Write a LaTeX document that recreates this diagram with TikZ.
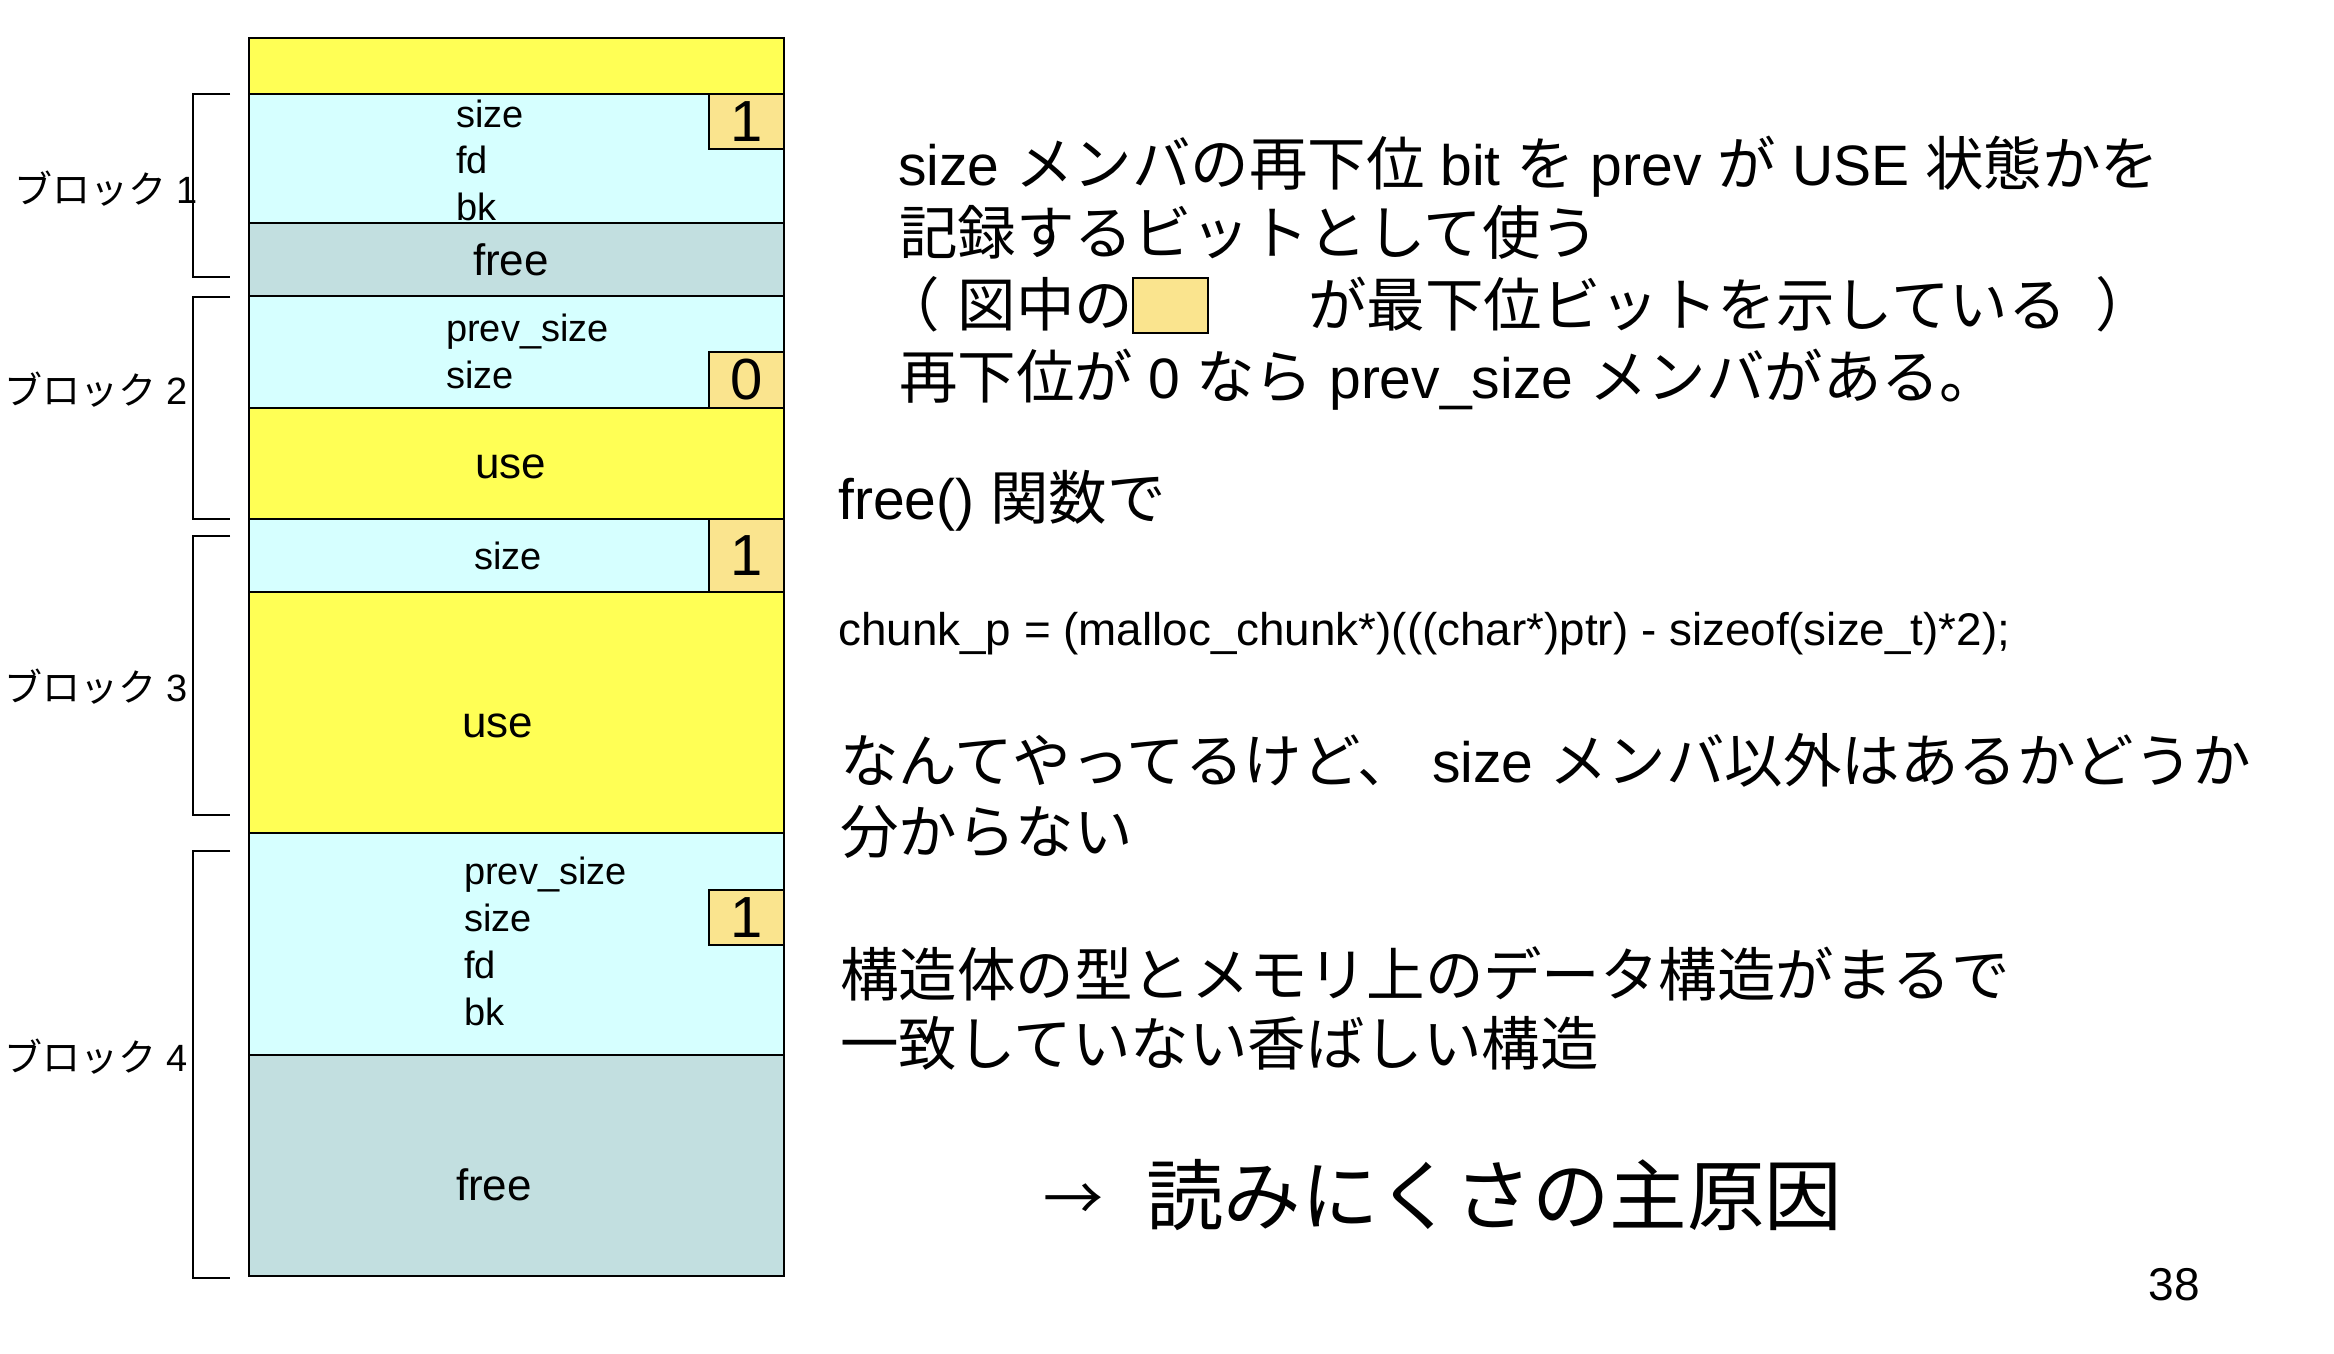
\documentclass[tikz,border=0pt]{standalone}
\usepackage{fontspec}
\setmainfont{Liberation Sans}
\newfontfamily\jf{Noto Sans CJK JP}
\newfontfamily\jfr[Scale=1.026]{Noto Sans CJK JP}
\newcommand\J[1]{{\jfr #1}}
\definecolor{memyellow}{RGB}{255,255,85}
\definecolor{memcyan}{RGB}{214,255,255}
\definecolor{memfree}{RGB}{194,223,224}
\definecolor{bitfill}{RGB}{250,228,142}
\tikzset{
  cell/.style={draw, line width=2.5pt, rectangle, inner sep=0pt, outer sep=0pt, minimum width=535pt},
  bitbox/.style={draw, line width=2.5pt, rectangle, inner sep=0pt, outer sep=0pt, fill=bitfill, minimum width=75pt, font=\fontsize{58}{62}\selectfont},
  fld/.style={anchor=base west, inner sep=0pt, font=\fontsize{38}{42}\selectfont},
  area/.style={anchor=base, inner sep=0pt, font=\fontsize{44}{48}\selectfont},
  rt/.style={anchor=base west, inner sep=0pt, font=\fontsize{57}{61}\selectfont},
  blk/.style={anchor=west, inner sep=0pt, font=\fontsize{38}{42}\selectfont},
  brk/.style={line width=2.2pt}
}
\begin{document}
\begin{tikzpicture}[x=1pt,y=-1pt]
\useasboundingbox[fill=white] (0,0) rectangle (2334,1354);
% memory rows
\node[cell, fill=memyellow, minimum height=56pt]  (r0) at (516.5,66) {};
\node[cell, fill=memcyan,   minimum height=129pt] (r1) at (516.5,158.5) {};
\node[cell, fill=memfree,   minimum height=73pt]  (r2) at (516.5,259.5) {};
\node[cell, fill=memcyan,   minimum height=112pt] (r3) at (516.5,352) {};
\node[cell, fill=memyellow, minimum height=111pt] (r4) at (516.5,463.5) {};
\node[cell, fill=memcyan,   minimum height=73pt]  (r5) at (516.5,555.5) {};
\node[cell, fill=memyellow, minimum height=241pt] (r6) at (516.5,712.5) {};
\node[cell, fill=memcyan,   minimum height=222pt] (r7) at (516.5,944) {};
\node[cell, fill=memfree,   minimum height=221pt] (r8) at (516.5,1165.5) {};
% lowest-bit boxes
\node[bitbox, minimum height=55pt] (d1) at (746.5,121.5) {1};
\node[bitbox, minimum height=56pt] (d2) at (746.5,380) {0};
\node[bitbox, minimum height=73pt] (d3) at (746.5,555.5) {1};
\node[bitbox, minimum height=55pt] (d4) at (746.5,917.5) {1};
% field labels
\node[fld] (b1size) at (456,127) {size};
\node[fld] (b1fd) at (456,173) {fd};
\node[fld] (b1bk) at (456,220) {bk};
\node[area] (b1free) at (511,275) {free};
\node[fld] (b2prev) at (446,341) {prev\_size};
\node[fld] (b2size) at (446,388) {size};
\node[area] (b2use) at (511,478) {use};
\node[fld, anchor=base] (b3size) at (508,569) {size};
\node[area] (b3use) at (498,737) {use};
\node[fld] (b4prev) at (464,884) {prev\_size};
\node[fld] (b4size) at (464,931) {size};
\node[fld] (b4fd) at (464,978) {fd};
\node[fld] (b4bk) at (464,1025) {bk};
\node[area] (b4free) at (494,1200) {free};
% brackets
\draw[brk] (230,94) -- (193,94) -- (193,277) -- (230,277);
\draw[brk] (230,297) -- (193,297) -- (193,519) -- (230,519);
\draw[brk] (230,536) -- (193,536) -- (193,815) -- (230,815);
\draw[brk] (230,851) -- (193,851) -- (193,1278) -- (230,1278);
\node[blk] (l1) at (14,189) {{\jf ブロック} 1};
\node[blk] (l2) at (4,390) {{\jf ブロック} 2};
\node[blk] (l3) at (4,687) {{\jf ブロック} 3};
\node[blk] (l4) at (4,1057) {{\jf ブロック} 4};
% right text
\node[rt] (t1) at (898,185) {size \J{メンバの再下位} bit \J{を} prev \J{が} USE \J{状態かを}};
\node[rt] (t2) at (899,254) {\J{記録するビットとして使う}};
\node[rt] (t3a) at (899,326) {\J{\makebox[1em][l]{\kern-0.3em （}図中の}};
\node[draw, line width=2.5pt, fill=bitfill, inner sep=0pt, minimum width=75pt, minimum height=55pt] (bx) at (1170.5,305.5) {};
\node[rt] (t3b) at (1308,326) {\J{が最下位ビットを示している\makebox[1em][l]{\kern0.5em ）}}};
\node[rt] (t4) at (899,398) {\J{再下位が} 0 \J{なら} prev\_size \J{メンバがある。}};
\node[rt] (t5) at (838,519) {free() \J{関数で}};
\node[rt, font=\fontsize{45.8}{50}\selectfont] (t6) at (838,645) {chunk\_p = (malloc\_chunk*)(((char*)ptr) - sizeof(size\_t)*2);};
\node[rt] (t7) at (840,782) {\J{なんてやってるけど、} size \J{メンバ以外はあるかどうか}};
\node[rt] (t8) at (840,853) {\J{分からない}};
\node[rt] (t9) at (840,996) {\J{構造体の型とメモリ上のデータ構造がまるで}};
\node[rt] (t10) at (840,1065) {\J{一致していない香ばしい構造}};
\node[inner sep=0pt, font=\fontsize{60}{64}\selectfont\jf] (arr) at (1073,1202) {→};
\node[rt, font=\fontsize{77.5}{82}\selectfont\jf] (t11) at (1146,1224) {読みにくさの主原因};
\node[anchor=base east, inner sep=0pt, font=\fontsize{46}{50}\selectfont] (pg) at (2200,1300) {38};
\end{tikzpicture}
\end{document}
